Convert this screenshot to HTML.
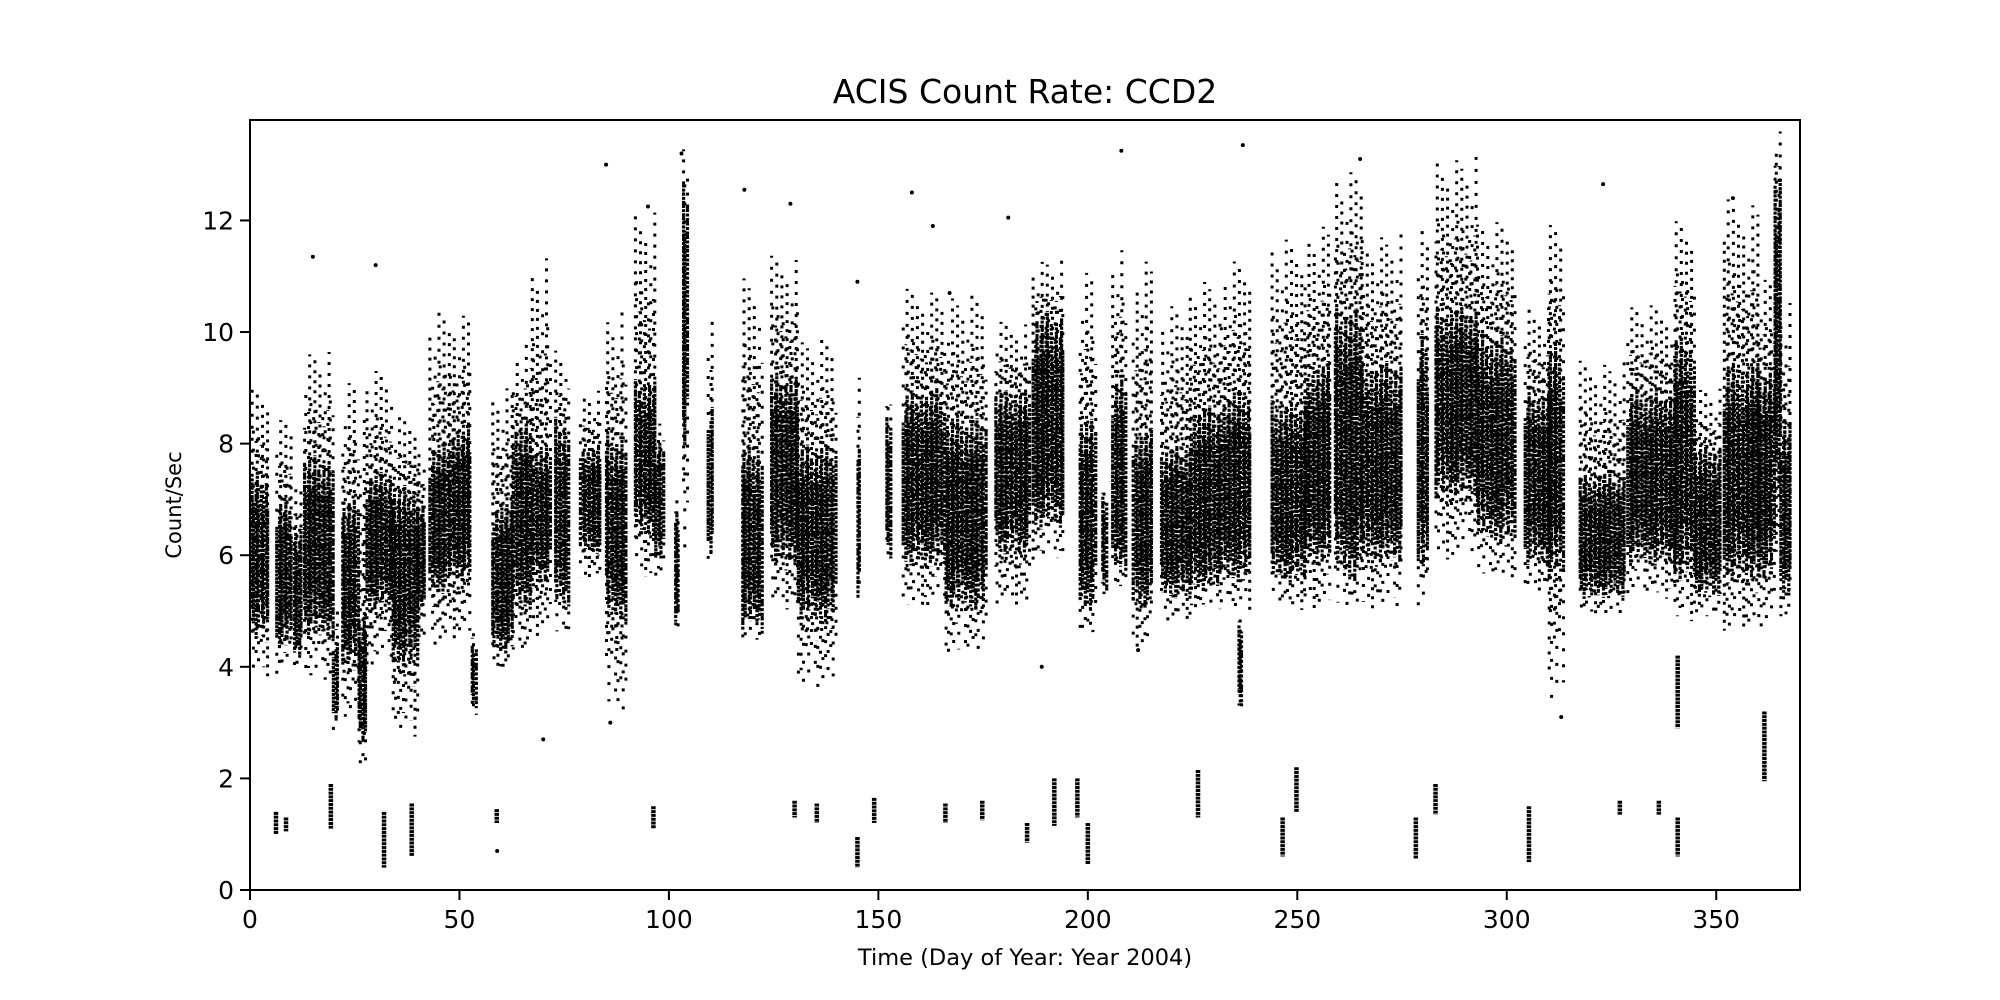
<!DOCTYPE html>
<html><head><meta charset="utf-8"><style>
html,body{margin:0;padding:0;background:#fff;}
svg{display:block;font-family:"DejaVu Sans","Liberation Sans",sans-serif;}
</style></head><body>
<svg id="chart" width="2000" height="1000" viewBox="0 0 2000 1000" xmlns="http://www.w3.org/2000/svg">
<rect width="2000" height="1000" fill="#fff"/>
<text x="1025" y="103" font-size="33" text-anchor="middle">ACIS Count Rate: CCD2</text>
<text x="1025" y="965" font-size="22.5" text-anchor="middle">Time (Day of Year: Year 2004)</text>
<text x="0" y="0" font-size="21" text-anchor="middle" transform="translate(181,505) rotate(-90)">Count/Sec</text>
<g id="marks"></g>
<g id="axes"></g>
</svg>
<script>
// observation clusters: [dayStart, dayEnd, low, high, coreLow, coreHigh]
const clusterDays = [[0.5,4.5],[6.5,10],[10.5,12.5],[13,20],[20,21],[22,26],[26,28],[28,34],[34,40],[40,42],[43,48],[48,53],[53,54],[58,63],[63,67],[67,72],[73,76],[79,84],[85,90],[92,97],[97,99],[101.5,102.5],[103.5,104.5],[109.5,110.5],[117.5,122.5],[124.5,131],[131,140],[145,145.5],[152,153],[156,166],[166,176],[178,186],[187,194.5],[198,202],[203.5,204.5],[206,209],[211,215.5],[217.5,224.5],[224.5,232],[232,239],[236,237],[244,252],[252,258],[259,265.5],[265.5,275],[279,281.5],[283,293],[293,302],[304.5,310],[310,313.5],[317.5,328],[329,340],[340,345],[345,351],[352,360],[360,364],[364,365.5],[365.5,368]];
const clusterRange = [[3.8,9.0],[3.8,8.5],[3.9,7.2],[3.7,9.7],[2.8,5.0],[3.0,9.2],[2.2,8.5],[3.9,9.4],[2.7,8.5],[4.4,8.1],[4.3,10.4],[4.4,10.4],[3.1,4.7],[3.9,9.1],[4.1,9.8],[4.5,11.5],[4.5,9.8],[5.5,9.0],[3.0,10.4],[5.6,12.3],[5.4,8.4],[4.4,7.0],[5.8,13.3],[5.9,10.3],[4.4,11.1],[5.0,11.4],[3.5,9.9],[5.2,9.2],[5.8,9.1],[5.0,10.8],[4.1,10.7],[5.0,10.2],[5.9,11.3],[4.5,11.1],[5.3,7.2],[5.3,11.5],[4.3,11.4],[4.8,10.5],[5.0,11.0],[5.0,11.3],[3.1,4.9],[5.0,11.7],[5.0,12.0],[5.0,12.9],[5.0,11.8],[4.9,12.0],[5.9,13.2],[5.5,12.0],[5.3,10.5],[3.1,12.0],[4.9,9.5],[5.2,10.5],[4.8,12.0],[4.8,9.0],[4.6,12.4],[4.6,11.0],[6.0,13.6],[4.9,10.6]];
const clusterCore = [[4.5,7.5],[4.3,7.0],[4.2,6.5],[4.5,7.8],[3.0,4.5],[4.0,7.0],[2.6,5.0],[5.0,7.5],[4.0,7.3],[5,7],[5.3,8.0],[5.5,8.3],[3.2,4.5],[4.2,7.0],[5.0,8.5],[5.5,8],[5.0,8.5],[6,8],[4.8,8.2],[6.3,9.2],[5.8,8],[4.8,6.8],[7.5,12.8],[6,8.7],[4.6,8],[5.8,9.3],[4.8,8.0],[5.2,8],[5.9,8.6],[5.8,9.0],[5.0,8.5],[6,9],[6.4,10.4],[5,8.5],[5.3,7.2],[5.7,9.3],[5,8.3],[5.2,8.0],[5.3,8.7],[5.5,9],[3.2,4.9],[5.5,8.8],[5.8,9.5],[5.5,10.5],[5.8,9.5],[5.5,10],[7,10.5],[6.2,10],[5.8,9],[5.5,9.8],[5.2,7.5],[5.8,9],[5.5,10],[5.2,8],[5.5,9.5],[5.5,9.3],[7,13],[5.2,8.5]];
// low-rate observations: day, low, high
const lowDays = [6.2,8.6,19.3,32,38.6,58.9,96.3,130,135.3,145,149,166,174.8,185.5,192,197.5,200,226.3,246.5,249.8,278.3,283,305.3,327,336.3,340.8,340.8,361.5];
const lowLo = [1.0,1.05,1.1,0.4,0.6,1.2,1.1,1.3,1.2,0.4,1.2,1.2,1.25,0.85,1.15,1.3,0.45,1.3,0.6,1.4,0.55,1.35,0.5,1.35,1.35,0.6,2.9,1.95];
const lowHi = [1.4,1.3,1.9,1.4,1.55,1.45,1.5,1.6,1.55,0.95,1.65,1.55,1.6,1.2,2.0,2.0,1.2,2.15,1.3,2.2,1.3,1.9,1.5,1.6,1.6,1.3,4.2,3.2];
// isolated points
const outDays = [15,30,85,95,118,129,158,163,181,208,237,323,354,189,70,86,313,212,167,145,59,265,103];
const outVals = [11.35,11.2,13.0,12.25,12.55,12.3,12.5,11.9,12.05,13.25,13.35,12.65,12.4,4.0,2.7,3.0,3.1,4.3,10.7,10.9,0.7,13.1,13.2];
const xTicks = [0,50,100,150,200,250,300,350];
const yTicks = [0,2,4,6,8,10,12];

const NS="http://www.w3.org/2000/svg";
const L=250,R=1800,T=120,B=890,XMAX=370,YMAX=13.8;
const xs=d=>L+d/XMAX*(R-L);
const ys=v=>B-v/YMAX*(B-T);
const marks=document.getElementById('marks');
const axes=document.getElementById('axes');
function mk(tag,attrs,parent){const e=document.createElementNS(NS,tag);for(const k in attrs)e.setAttribute(k,attrs[k]);parent.appendChild(e);return e;}
function jit(a,b){return ((a*7919+b*104729+13)%97)/97;}

clusterDays.forEach((cd,i)=>{
  const g=mk('g',{},marks);
  
  
  const [d0,d1]=cd,[lo,hi]=clusterRange[i],[cl,ch]=clusterCore[i];
  const step=0.42;
  let k=0;
  for(let d=d0;d<=d1+0.001;d+=step,k++){
    const x=(xs(d)+(jit(k,i+5)-0.5)*1.5).toFixed(1);
    const span=ch-cl;
    const cH=ch-span*0.25*jit(k,i), cL=cl+span*0.25*jit(k+3,i+1);
    const oH=cH+(hi-cH)*(0.3+0.7*jit(k+7,i+2)), oL=cL-(cL-lo)*(0.3+0.7*jit(k+11,i+3));
    mk('line',{x1:x,x2:x,y1:ys(oH),y2:ys(oL),stroke:'#000','stroke-width':3,'stroke-dasharray':'3 '+(6+Math.round(jit(k,i+9)*10)),'stroke-dashoffset':Math.round(jit(k+1,i)*16)},g);
    mk('line',{x1:x,x2:x,y1:ys(cH),y2:ys(cL),stroke:'#000','stroke-width':3.2,'stroke-dasharray':'3 '+(0.6+jit(k+2,i)*1.4).toFixed(1),'stroke-dashoffset':Math.round(jit(k+4,i)*4)},g);
  }
});
lowDays.forEach((d,i)=>{
  const x=xs(d);
  const l=mk('line',{x1:x,x2:x,y1:ys(lowHi[i]),y2:ys(lowLo[i]),stroke:'#000','stroke-width':4.5,'stroke-dasharray':'3 0.8'},marks);
  
  
});
outDays.forEach((d,i)=>{
  const c=mk('circle',{cx:xs(d),cy:ys(outVals[i]),r:2,fill:'#000'},marks);
  
  
});

const frame=mk('rect',{x:L,y:T,width:R-L,height:B-T,fill:'none',stroke:'#000','stroke-width':2},axes);


xTicks.forEach(t=>{
  const x=xs(t);
  const tk=mk('line',{x1:x,x2:x,y1:B,y2:B+10,stroke:'#000','stroke-width':2},axes);
  
  
  const tx=mk('text',{x:x,y:B+38,'font-size':25,'text-anchor':'middle'},axes);
  tx.textContent=t;
  
  
});
yTicks.forEach(t=>{
  const y=ys(t);
  const tk=mk('line',{x1:L-10,x2:L,y1:y,y2:y,stroke:'#000','stroke-width':2},axes);
  
  
  const tx=mk('text',{x:L-16,y:y+9,'font-size':25,'text-anchor':'end'},axes);
  tx.textContent=t;
  
  
});
</script>
</body></html>
